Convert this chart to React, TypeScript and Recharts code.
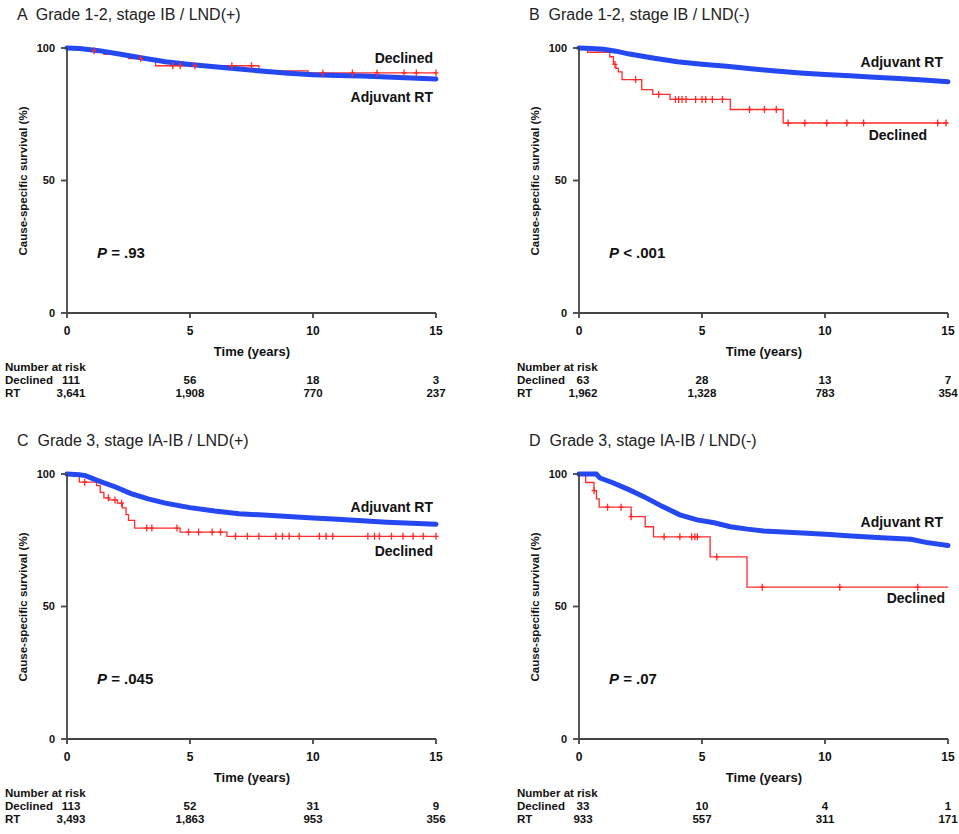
import React from 'react';
import {ComposedChart, Line, Scatter, XAxis, YAxis} from 'recharts';

const FONT = "'Liberation Sans', Arial, Helvetica, sans-serif";
const BLUE = '#2448f2';
const RED = '#ff2a2a';

const xTicks = [0, 5, 10, 15];
const yTicks = [0, 50, 100];

// [time (years), survival %]
const aRT: [number, number][] = [[0, 100], [0.5, 99.8], [1.3, 99.0], [2, 97.9], [3, 96.3], [4, 94.8], [5, 93.8], [6, 92.9], [7, 92.1], [8, 91.2], [9, 90.5], [10, 89.9], [11, 89.6], [12, 89.4], [13, 89.1], [14, 88.7], [15, 88.3]];
const aDeclined: [number, number][] = [[0, 100], [0.8, 99.0], [1.5, 97.6], [2.5, 96.0], [3.6, 93.3], [7.8, 91.4], [9.8, 90.6], [15, 90.6]];
const aCensor = [1.1, 3.0, 4.3, 4.6, 5.2, 6.7, 7.5, 10.4, 11.6, 12.6, 13.7, 14.2, 15];

const bRT: [number, number][] = [[0, 100], [0.5, 99.8], [1, 99.5], [1.5, 98.8], [2, 97.8], [3, 96.2], [4, 94.8], [5, 93.9], [6, 93.1], [7, 92.2], [8, 91.3], [9, 90.6], [10, 90], [11, 89.5], [12, 89.0], [13, 88.5], [14, 87.9], [15, 87.3]];
const bDeclined: [number, number][] = [[0, 100], [0.35, 98.4], [1.25, 96.7], [1.4, 93.8], [1.5, 92.3], [1.6, 91], [1.75, 88.1], [2.55, 84.3], [3.0, 82.5], [3.7, 80.6], [6.15, 76.8], [8.3, 71.7], [15, 71.7]];
const bCensor = [1.46, 2.3, 3.24, 3.92, 4.05, 4.19, 4.35, 4.74, 5.0, 5.15, 5.42, 5.83, 6.93, 7.54, 8.02, 8.5, 9.18, 10.07, 10.89, 11.57, 14.58, 14.92];

const cRT: [number, number][] = [[0, 100], [0.5, 99.7], [0.75, 99.4], [1.25, 97.5], [2, 95], [2.6, 92.6], [3.3, 90.6], [4, 89], [5, 87.3], [6, 86], [7, 85], [8, 84.5], [9, 84], [10, 83.4], [11, 82.9], [12, 82.4], [13, 81.8], [14, 81.4], [15, 81]];
const cDeclined: [number, number][] = [[0, 100], [0.5, 96.9], [1.2, 95.6], [1.35, 93.1], [1.5, 91], [1.7, 90.2], [2.05, 89], [2.25, 87.2], [2.4, 84.7], [2.5, 82.5], [2.75, 79.6], [4.6, 78.1], [6.5, 76.5], [15, 76.5]];
const cCensor = [0.72, 1.68, 1.95, 2.22, 3.24, 3.45, 4.47, 4.94, 5.35, 5.9, 6.24, 6.85, 7.33, 7.8, 8.49, 8.76, 9.03, 9.44, 10.26, 10.53, 10.8, 12.23, 12.5, 12.7, 13.19, 13.66, 14.07, 14.48, 15];

const dRT: [number, number][] = [[0, 100], [0.7, 100], [0.85, 98.5], [1.4, 96.6], [2.05, 94], [2.75, 90.9], [3.4, 87.7], [4.1, 84.6], [4.8, 82.7], [5.5, 81.6], [6.15, 80.1], [6.85, 79.2], [7.5, 78.5], [8.9, 77.8], [10.2, 77.2], [10.9, 76.7], [12.3, 75.9], [13.5, 75.4], [14.1, 74.2], [15, 73]];
const dDeclined: [number, number][] = [[0, 100], [0.27, 96.8], [0.61, 93.7], [0.71, 90.6], [0.82, 87.5], [2.12, 83.9], [2.69, 80.1], [3.03, 76.3], [5.33, 68.7], [6.83, 57.3], [15, 57.3]];
const dCensor = [0.61, 1.16, 1.71, 2.12, 3.46, 4.1, 4.58, 4.71, 4.81, 5.6, 7.45, 10.6, 13.77];

const aRiskDeclined = ['111', '56', '18', '3'];
const aRiskRT = ['3,641', '1,908', '770', '237'];
const bRiskDeclined = ['63', '28', '13', '7'];
const bRiskRT = ['1,962', '1,328', '783', '354'];
const cRiskDeclined = ['113', '52', '31', '9'];
const cRiskRT = ['3,493', '1,863', '953', '356'];
const dRiskDeclined = ['33', '10', '4', '1'];
const dRiskRT = ['933', '557', '311', '171'];

// survival value of a step curve at time t (for censor marks)
const stepAt = (steps: [number, number][], t: number) => {
    let v = steps[0][1];
    steps.forEach(([st, sv]) => {
        if (st <= t) v = sv;
    });
    return v;
};

const CensorMark = (props: any) => {
    const {cx, cy} = props;
    if (cx == null || cy == null) return null;
    return <path d={`M${cx - 2.5},${cy} H${cx + 2.5} M${cx},${cy - 3.5} V${cy + 3.5}`} stroke={RED} strokeWidth={1.3}/>;
};

interface PanelProps {
    ox: number;
    oy: number;
    title: string;
    pText: string;
    rt: [number, number][];
    declined: [number, number][];
    censor: number[];
    riskDeclined: string[];
    riskRT: string[];
    rtLabel: {x: number; y: number};
    declLabel: {x: number; y: number};
}

// x of each time tick in panel coordinates
const PLOT_LEFT = 67;
const PLOT_RIGHT = 436;
const tickX = (t: number) => PLOT_LEFT + (t / 15) * (PLOT_RIGHT - PLOT_LEFT);

const txt = (left: number, top: number, content: React.ReactNode, style: React.CSSProperties = {}, anchor = 'left') => (
    <div style={{
        position: 'absolute', left, top, whiteSpace: 'pre', lineHeight: 1,
        transform: anchor === 'center' ? 'translate(-50%,-50%)' : anchor === 'right' ? 'translate(-100%,-50%)' : 'translate(0,-50%)',
        ...style
    }}>{content}</div>
);

const Panel: React.FC<PanelProps> = (p) => {
    const rtData = p.rt.map(([t, s]) => ({t, s}));
    const declData = p.declined.map(([t, s]) => ({t, s}));
    const censorData = p.censor.map(t => ({t, s: stepAt(p.declined, t)}));
    const bold: React.CSSProperties = {fontWeight: 'bold', color: '#111'};

    return (
        <div style={{position: 'absolute', left: p.ox, top: p.oy, width: 480, height: 410}}>
            {txt(17, 15, p.title, {fontSize: 16, color: '#222'})}
            <div style={{position: 'absolute', left: 0, top: 30}}>
                <ComposedChart width={470} height={320} margin={{top: 18, right: 34, left: 0, bottom: 0}}>
                    <XAxis dataKey="t" type="number" domain={[0, 15]} ticks={xTicks} height={37}
                           tickSize={5} tickMargin={8} stroke="#444" strokeWidth={1.8}
                           tick={{fill: '#111', fontSize: 12, fontWeight: 'bold', fontFamily: FONT}}/>
                    <YAxis dataKey="s" type="number" domain={[0, 100]} ticks={yTicks} width={67}
                           tickSize={6} tickMargin={6} stroke="#444" strokeWidth={1.8}
                           tick={{fill: '#111', fontSize: 11, fontWeight: 'bold', fontFamily: FONT}}/>
                    <Line data={declData} dataKey="s" type="stepAfter" stroke={RED} strokeWidth={1.3}
                          dot={false} isAnimationActive={false}/>
                    <Line data={rtData} dataKey="s" type="linear" stroke={BLUE} strokeWidth={5}
                          strokeLinecap="round" dot={false} isAnimationActive={false}/>
                    <Scatter data={censorData} dataKey="s" shape={<CensorMark/>} isAnimationActive={false}/>
                </ComposedChart>
            </div>
            {txt(24, 181, 'Cause-specific survival (%)', {
                ...bold, fontSize: 11.5,
                transform: 'translate(-50%,-50%) rotate(-90deg)'
            })}
            {txt(97, 252, <span><i>P</i> {p.pText}</span>, {...bold, fontSize: 15})}
            {txt(p.rtLabel.x, p.rtLabel.y, 'Adjuvant RT', {...bold, fontSize: 14}, 'right')}
            {txt(p.declLabel.x, p.declLabel.y, 'Declined', {...bold, fontSize: 14}, 'right')}
            {txt(252, 351, 'Time (years)', {...bold, fontSize: 13}, 'center')}
            {txt(5, 368, 'Number at risk', {...bold, fontSize: 11.5})}
            {txt(5, 381, 'Declined', {...bold, fontSize: 11.5})}
            {txt(5, 394, 'RT', {...bold, fontSize: 11.5})}
            {xTicks.map((t, i) => (
                <React.Fragment key={t}>
                    {txt(tickX(t) + (i === 0 ? 4 : 0), 381, p.riskDeclined[i], {...bold, fontSize: 11.5}, 'center')}
                    {txt(tickX(t) + (i === 0 ? 4 : 0), 394, p.riskRT[i], {...bold, fontSize: 11.5}, 'center')}
                </React.Fragment>
            ))}
        </div>
    );
};

export default function App() {
    return (
        <div style={{position: 'absolute', left: 0, top: 0, width: 959, height: 834, background: '#fff', fontFamily: FONT, overflow: 'hidden'}}>
            <Panel ox={0} oy={0} title="A  Grade 1-2, stage IB / LND(+)" pText="= .93"
                   rt={aRT} declined={aDeclined} censor={aCensor}
                   riskDeclined={aRiskDeclined} riskRT={aRiskRT}
                   rtLabel={{x: 433, y: 97}} declLabel={{x: 433, y: 58}}/>
            <Panel ox={512} oy={0} title="B  Grade 1-2, stage IB / LND(-)" pText="< .001"
                   rt={bRT} declined={bDeclined} censor={bCensor}
                   riskDeclined={bRiskDeclined} riskRT={bRiskRT}
                   rtLabel={{x: 431, y: 62}} declLabel={{x: 415, y: 135}}/>
            <Panel ox={0} oy={426} title="C  Grade 3, stage IA-IB / LND(+)" pText="= .045"
                   rt={cRT} declined={cDeclined} censor={cCensor}
                   riskDeclined={cRiskDeclined} riskRT={cRiskRT}
                   rtLabel={{x: 433, y: 81}} declLabel={{x: 433, y: 125}}/>
            <Panel ox={512} oy={426} title="D  Grade 3, stage IA-IB / LND(-)" pText="= .07"
                   rt={dRT} declined={dDeclined} censor={dCensor}
                   riskDeclined={dRiskDeclined} riskRT={dRiskRT}
                   rtLabel={{x: 431, y: 96}} declLabel={{x: 433, y: 172}}/>
        </div>
    );
}
